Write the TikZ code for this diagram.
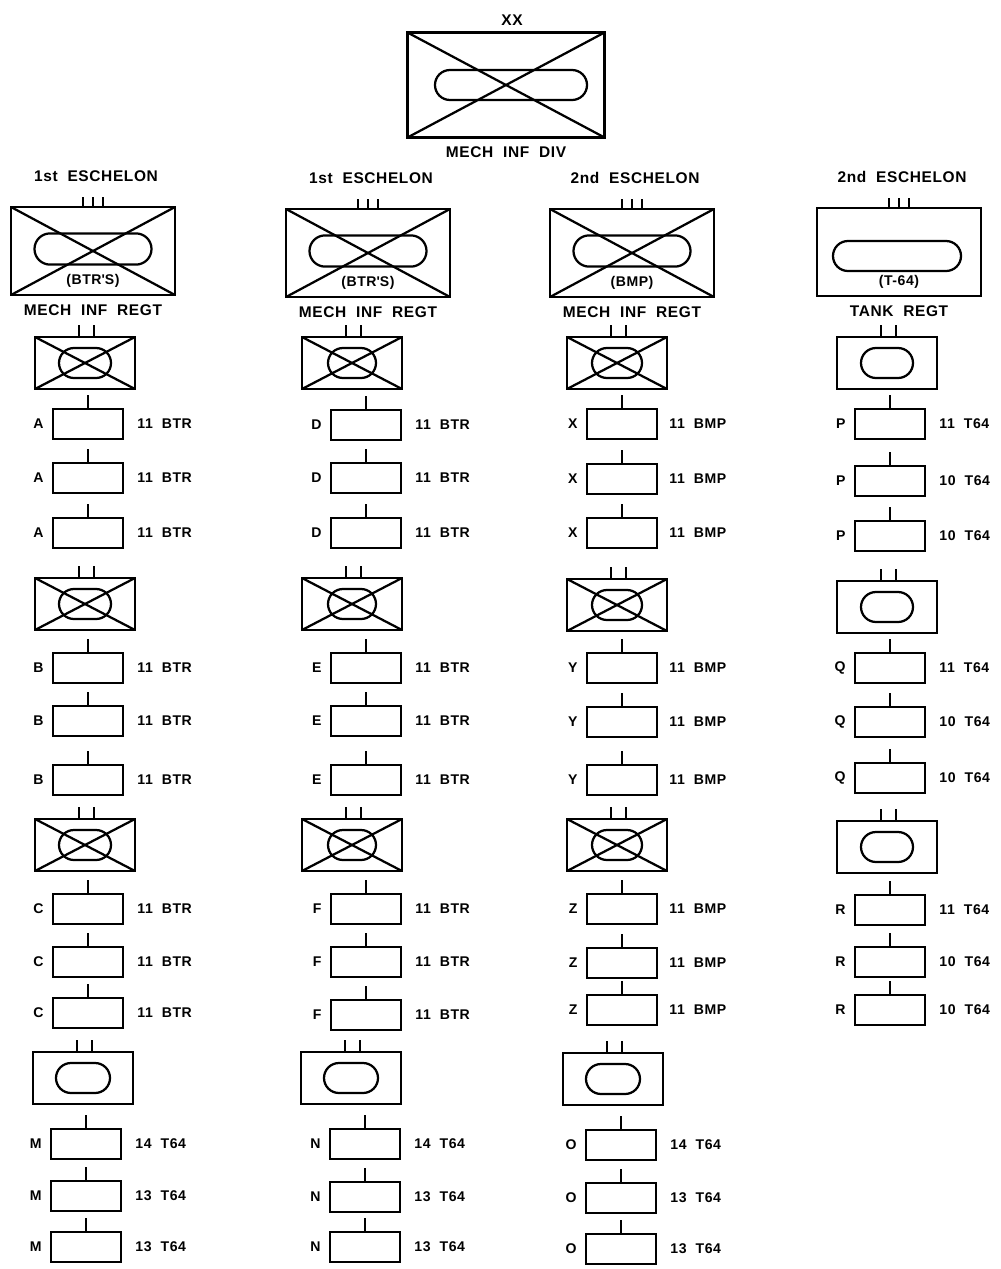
\documentclass[tikz,border=0pt]{standalone}
\usepackage{fontspec}
\setmainfont{Liberation Sans}[LetterSpace=4]
\usetikzlibrary{calc,shapes.misc}

\tikzset{
  sym/.style={draw,line width=1.7pt,inner sep=0pt},
  divbox/.style={sym,minimum width=4.925cm,minimum height=2.625cm},
  regtbox/.style={sym,minimum width=4.1cm,minimum height=2.2cm},
  bnbox/.style={sym,minimum width=2.5cm,minimum height=1.3cm},
  coybox/.style={sym,minimum width=1.75cm,minimum height=0.75cm},
  cross/.style={path picture={\draw[line width=1.6pt]
      (path picture bounding box.north west) -- (path picture bounding box.south east)
      (path picture bounding box.north east) -- (path picture bounding box.south west);}},
  oval/.style={draw,line width=1.6pt,rounded rectangle,inner sep=0pt},
  tk/.style={line width=1.4pt},
  lbl/.style={font=\fontsize{10}{12}\selectfont\bfseries,inner sep=0pt},
  big/.style={font=\fontsize{11}{13}\selectfont\bfseries,inner sep=0pt},
}

\begin{document}
\begin{tikzpicture}[x=0.025cm,y=-0.025cm]
  \useasboundingbox (0,0) rectangle (1000,1269);

  % division
  \node[big] (xx) at (512,20) {XX};
  \node[divbox,cross] (div) at (506,85) {};
  \node[oval,minimum width=3.8cm,minimum height=0.75cm] (divo) at (511,85) {};
  \node[big] (divl) at (506,152) {MECH\ \ INF\ \ DIV};

  % regiments
  \foreach \x/\y/\e/\t/\n [count=\r] in {93/251/1st/(BTR\textquotesingle S)/MECH\ \ INF\ \ REGT,
      368/253/1st/(BTR\textquotesingle S)/MECH\ \ INF\ \ REGT,
      632/253/2nd/(BMP)/MECH\ \ INF\ \ REGT} {
    \node[regtbox,cross] (r\r) at (\x,\y) {};
    \node[oval,minimum width=2.925cm,minimum height=0.78cm] (r\r o) at (\x,\y-2) {};
    \node[big] (r\r e) at ($(r\r.north)+(3,-30)$) {\e\ \ ESCHELON};
    \node[lbl] (r\r t) at ($(r\r.south)+(0,-15)$) {\t};
    \node[big] (r\r n) at ($(r\r.south)+(0,14)$) {\n};
    \foreach \d in {-10,0,10}
      \draw[tk] ($(r\r.north)+(\d,0)$) -- ++(0,-9);
  }
  \node[regtbox] (r4) at (899,252) {};
  \node[oval,minimum width=3.2cm,minimum height=0.75cm] (r4o) at (897,256) {};
  \node[big] (r4e) at ($(r4.north)+(3,-30)$) {2nd\ \ ESCHELON};
  \node[lbl] (r4t) at ($(r4.south)+(0,-15)$) {(T-64)};
  \node[big] (r4n) at ($(r4.south)+(0,14)$) {TANK\ \ REGT};
  \foreach \d in {-10,0,10}
    \draw[tk] ($(r4.north)+(\d,0)$) -- ++(0,-9);

  % battalions
  \foreach \x/\y/\s/\w [count=\i] in {85/363/cross/1.3, 85/604/cross/1.3, 85/845/cross/1.3, 83/1078//1.35,
      352/363/cross/1.2, 352/604/cross/1.2, 352/845/cross/1.2, 351/1078//1.35,
      617/363/cross/1.25, 617/605/cross/1.25, 617/845/cross/1.25, 613/1079//1.35,
      887/363//1.3, 887/607//1.3, 887/847//1.3} {
    \node[bnbox,\s] (b\i) at (\x,\y) {};
    \node[oval,minimum width=\w cm,minimum height=0.75cm] (b\i o) at (\x,\y) {};
    \draw[tk] ($(b\i.north)+(-6,0)$) -- ++(0,-11);
    \draw[tk] ($(b\i.north)+(9,0)$) -- ++(0,-11);
  }

  % companies
  \foreach \x/\y/\n/\t [count=\i] in {
      88/424/A/11, 88/478/A/11, 88/533/A/11, 88/668/B/11, 88/721/B/11, 88/780/B/11,
      88/909/C/11, 88/962/C/11, 88/1013/C/11,
      366/425/D/11, 366/478/D/11, 366/533/D/11, 366/668/E/11, 366/721/E/11, 366/780/E/11,
      366/909/F/11, 366/962/F/11, 366/1015/F/11} {
    \node[coybox] (c\i) at (\x,\y) {};
    \draw[tk] (c\i.north) -- ++(0,-13);
    \node[lbl,anchor=east] (c\i l) at ($(c\i.west)+(-8,0)$) {\n};
    \node[lbl,anchor=west] (c\i t) at ($(c\i.east)+(13,0)$) {\t\ \ BTR};
  }
  \foreach \x/\y/\n/\t [count=\i] in {
      622/424/X/11, 622/479/X/11, 622/533/X/11, 622/668/Y/11, 622/722/Y/11, 622/780/Y/11,
      622/909/Z/11, 622/963/Z/11, 622/1010/Z/11} {
    \node[coybox] (x\i) at (\x,\y) {};
    \draw[tk] (x\i.north) -- ++(0,-13);
    \node[lbl,anchor=east] (x\i l) at ($(x\i.west)+(-8,0)$) {\n};
    \node[lbl,anchor=west] (x\i t) at ($(x\i.east)+(11,0)$) {\t\ \ BMP};
  }
  \foreach \x/\y/\n/\t [count=\i] in {
      890/424/P/11, 890/481/P/10, 890/536/P/10, 890/668/Q/11, 890/722/Q/10, 890/778/Q/10,
      890/910/R/11, 890/962/R/10, 890/1010/R/10,
      86/1144/M/14, 86/1196/M/13, 86/1247/M/13,
      365/1144/N/14, 365/1197/N/13, 365/1247/N/13,
      621/1145/O/14, 621/1198/O/13, 621/1249/O/13} {
    \node[coybox] (t\i) at (\x,\y) {};
    \draw[tk] (t\i.north) -- ++(0,-13);
    \node[lbl,anchor=east] (t\i l) at ($(t\i.west)+(-8,0)$) {\n};
    \node[lbl,anchor=west] (t\i t) at ($(t\i.east)+(13,0)$) {\t\ \ T64};
  }
\end{tikzpicture}
\end{document}
